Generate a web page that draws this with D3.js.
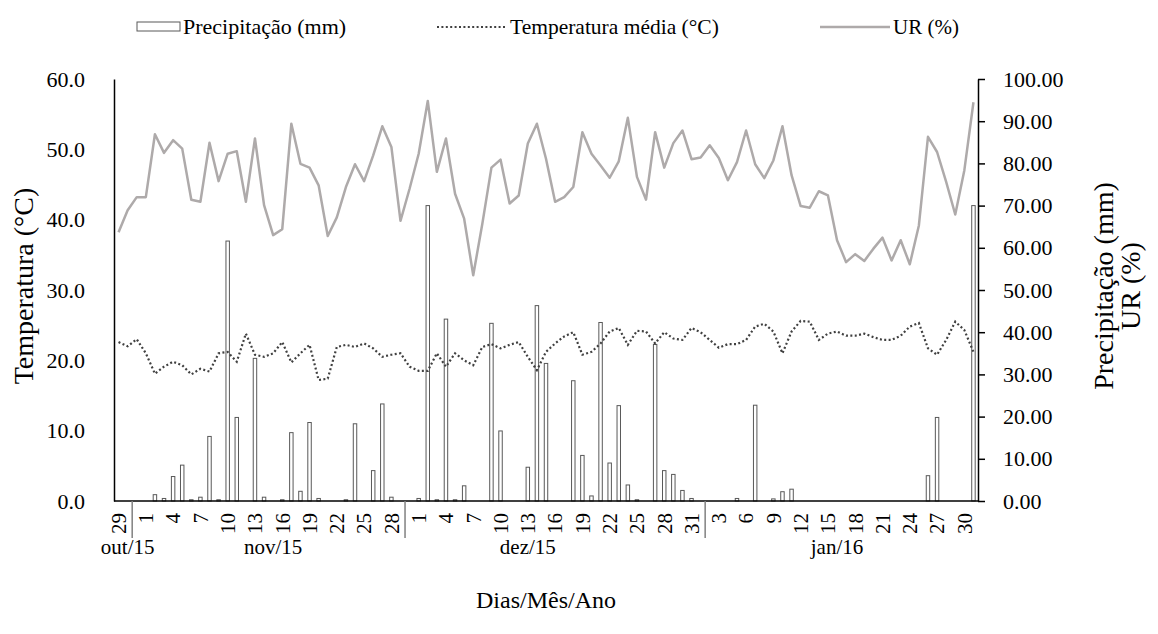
<!DOCTYPE html>
<html>
<head>
<meta charset="utf-8">
<script src="https://cdn.jsdelivr.net/npm/d3@7"></script>
<style>
    body { margin: 0; background: #fff; }
    svg text { font-family: "Liberation Serif", "Times New Roman", serif; fill: #000; }
</style>
</head>
<body>
<div id="vis"></div>
<script>
// daily data, 29 Oct 2015 .. 31 Jan 2016
let startDay = new Date(2015, 9, 29),
    endDay = new Date(2016, 1, 1);

let precip = [
    0, 0, 0,
    0, 1.5, 0.6, 5.8, 8.5, 0.3, 0.9, 15.3, 0.3, 61.6, 19.8, 0, 33.8, 0.9, 0, 0.3, 16.2, 2.3, 18.6, 0.6, 0, 0, 0.3, 18.3, 0, 7.2, 23.0, 0.9, 0, 0,
    0.6, 70.0, 0.3, 43.1, 0.3, 3.6, 0, 0, 42.1, 16.6, 0, 0, 8.0, 46.3, 32.6, 0, 0, 28.5, 10.8, 1.2, 42.3, 9.0, 22.6, 3.8, 0.3, 0, 37.1, 7.2, 6.3, 2.5, 0.6,
    0, 0, 0, 0, 0.6, 0, 22.7, 0, 0.5, 2.2, 2.8, 0, 0, 0, 0, 0, 0, 0, 0, 0, 0, 0, 0, 0, 0, 6.0, 19.8, 0, 0, 0, 70.0
];

let tempMedia = [
    22.6, 22.0, 23.0,
    21.0, 18.1, 19.1, 19.8, 19.3, 18.0, 18.8, 18.4, 21.0, 21.2, 19.8, 23.8, 20.8, 20.5, 21.0, 22.6, 19.7, 21.0, 22.2, 17.2, 17.4, 21.9, 22.2, 21.9, 22.4, 21.7, 20.5, 20.8, 21.0, 19.1,
    18.5, 18.5, 21.0, 19.1, 21.0, 20.0, 19.3, 21.9, 22.3, 21.7, 22.2, 22.6, 20.5, 18.6, 21.2, 22.4, 23.4, 24.0, 20.8, 21.2, 22.4, 24.1, 24.6, 22.2, 24.2, 24.1, 22.4, 24.0, 23.1, 22.9, 24.6,
    24.0, 22.9, 21.8, 22.3, 22.3, 22.9, 24.8, 25.2, 24.1, 21.0, 24.1, 25.6, 25.5, 22.9, 23.8, 24.1, 23.5, 23.5, 23.8, 23.3, 22.9, 22.9, 23.5, 24.8, 25.3, 21.7, 20.8, 22.9, 25.5, 24.3, 21.2
];

let ur = [
    63.7, 68.9, 72.0,
    72.0, 86.9, 82.5, 85.5, 83.5, 71.4, 70.9, 84.9, 75.8, 82.3, 82.9, 70.9, 85.9, 70.1, 63.0, 64.4, 89.4, 79.9, 79.0, 74.8, 62.8, 67.2, 74.4, 79.8, 75.8, 81.9, 88.8, 83.9, 66.4, 74.0,
    82.3, 94.8, 78.0, 85.9, 72.8, 66.9, 53.5, 65.7, 79.0, 80.9, 70.5, 72.4, 84.7, 89.4, 81.1, 70.9, 72.0, 74.4, 87.4, 82.3, 79.5, 76.6, 80.5, 90.8, 76.8, 71.4, 87.4, 79.0, 84.8, 87.8, 81.0,
    81.4, 84.3, 81.3, 76.0, 80.3, 87.8, 79.8, 76.5, 80.7, 88.8, 77.2, 69.9, 69.5, 73.4, 72.4, 61.8, 56.6, 58.5, 56.9, 59.8, 62.4, 57.0, 61.8, 56.1, 65.3, 86.3, 82.7, 75.6, 67.9, 78.4, 94.5
];

let monthLabels = ['out/15', 'nov/15', 'dez/15', 'jan/16'];
let monthLabelDay = [1, 17, 45, 79];   // day index the month name sits under
let tempTicks = [0, 10, 20, 30, 40, 50, 60];
let rightTicks = [0, 10, 20, 30, 40, 50, 60, 70, 80, 90, 100];
let labelStep = 3;

let days = d3.timeDay.range(startDay, endDay);

let width = 1158, height = 634;
let margin = {top: 79, right: 180, bottom: 133, left: 114};

let svg = d3.select('#vis')
    .append('svg')
    .attr('width', width)
    .attr('height', height);

let xScale = d3.scaleBand()
    .domain(d3.range(days.length))
    .range([margin.left, width - margin.right]);

let yTemp = d3.scaleLinear()
    .domain([0, 60])
    .range([height - margin.bottom, margin.top]);

let yRight = d3.scaleLinear()
    .domain([0, 100])
    .range([height - margin.bottom, margin.top]);

let bw = xScale.bandwidth(),
    barW = bw * 0.38,
    base = height - margin.bottom;

// bars
svg.append('g')
    .selectAll('rect')
    .data(precip.map((v, i) => ({i: i, v: v})).filter(d => d.v > 0))
    .enter()
    .append('rect')
    .attr('x', d => xScale(d.i) + bw / 2 - barW / 2)
    .attr('y', d => yRight(d.v))
    .attr('width', barW)
    .attr('height', d => base - yRight(d.v))
    .attr('fill', '#fff')
    .attr('stroke', '#595959')
    .attr('stroke-width', 1);

// UR line
let urLine = d3.line()
    .x((d, i) => xScale(i) + bw / 2)
    .y(d => yRight(d));

svg.append('path')
    .datum(ur)
    .attr('d', urLine)
    .attr('fill', 'none')
    .attr('stroke', '#aeaaaa')
    .attr('stroke-width', 2.5)
    .attr('stroke-linejoin', 'round');

// temperature, dotted
let tempLine = d3.line()
    .x((d, i) => xScale(i) + bw / 2)
    .y(d => yTemp(d));

svg.append('path')
    .datum(tempMedia)
    .attr('d', tempLine)
    .attr('fill', 'none')
    .attr('stroke', '#404040')
    .attr('stroke-width', 2.2)
    .attr('stroke-dasharray', '2,2.4');

// Axes
let leftAxis = d3.axisLeft(yTemp)
    .tickValues(tempTicks)
    .tickSize(0)
    .tickPadding(29)
    .tickFormat(d3.format('.1f'));

let gLeft = svg.append('g')
    .attr('transform', 'translate(' + margin.left + ',0)')
    .call(leftAxis);

let rightAxis = d3.axisRight(yRight)
    .tickValues(rightTicks)
    .tickSize(7)
    .tickSizeOuter(0)
    .tickPadding(18)
    .tickFormat(d3.format('.2f'));

let gRight = svg.append('g')
    .attr('transform', 'translate(' + (width - margin.right) + ',0)')
    .call(rightAxis);

[gLeft, gRight].forEach(g => {
    g.select('.domain').attr('stroke', '#000').attr('stroke-width', 1.5);
    g.selectAll('.tick line').attr('stroke', '#000').attr('stroke-width', 1.5);
    g.selectAll('.tick text')
        .style('font-family', '"Liberation Serif", "Times New Roman", serif')
        .style('font-size', '22px')
        .attr('fill', '#000');
});

// category axis
svg.append('line')
    .attr('x1', margin.left)
    .attr('x2', width - margin.right)
    .attr('y1', base)
    .attr('y2', base)
    .attr('stroke', '#000')
    .attr('stroke-width', 1.5);

let labelIdx = d3.range(0, days.length, labelStep);

svg.append('g')
    .selectAll('text')
    .data(labelIdx)
    .enter()
    .append('text')
    .attr('transform', i => 'translate(' + (xScale(i) + bw / 2) + ',' + (base + 12) + ') rotate(-90)')
    .attr('text-anchor', 'end')
    .attr('dy', '0.35em')
    .style('font-size', '21px')
    .text(i => days[i].getDate());

// month separators: midway between last labelled day of a month and first of the next
let seps = [];
for (let k = 1; k < labelIdx.length; k++) {
    let a = labelIdx[k - 1], b = labelIdx[k];
    if (days[a].getMonth() !== days[b].getMonth()) {
        seps.push((xScale(a) + xScale(b)) / 2 + bw / 2);
    }
}

svg.append('g')
    .selectAll('line')
    .data(seps)
    .enter()
    .append('line')
    .attr('x1', d => d)
    .attr('x2', d => d)
    .attr('y1', base)
    .attr('y2', base + 37)
    .attr('stroke', '#808080')
    .attr('stroke-width', 1.5);

svg.append('g')
    .selectAll('text')
    .data(monthLabels)
    .enter()
    .append('text')
    .attr('x', (d, k) => xScale(monthLabelDay[k]) + bw / 2)
    .attr('y', base + 53)
    .attr('text-anchor', 'middle')
    .style('font-size', '21px')
    .text(d => d);

// titles
svg.append('text')
    .attr('x', (margin.left + width - margin.right) / 2)
    .attr('y', 608)
    .attr('text-anchor', 'middle')
    .style('font-size', '24px')
    .text('Dias/Mês/Ano');

svg.append('text')
    .attr('transform', 'translate(33,' + ((margin.top + base) / 2 - 4) + ') rotate(-90)')
    .attr('text-anchor', 'middle')
    .style('font-size', '28px')
    .text('Temperatura (°C)');

let rTitle = svg.append('text')
    .attr('transform', 'translate(1113,' + ((margin.top + base) / 2 - 4) + ') rotate(-90)')
    .attr('text-anchor', 'middle')
    .style('font-size', '28px');
rTitle.append('tspan').attr('x', 0).attr('dy', 0).text('Precipitação (mm)');
rTitle.append('tspan').attr('x', 0).attr('dy', '0.95em').text('UR (%)');

// legend
let legend = svg.append('g');

legend.append('rect')
    .attr('x', 137).attr('y', 22).attr('width', 43).attr('height', 9)
    .attr('fill', '#fff').attr('stroke', '#595959').attr('stroke-width', 1);
legend.append('text').attr('x', 183).attr('y', 34).style('font-size', '22px').text('Precipitação (mm)');

legend.append('line')
    .attr('x1', 437).attr('x2', 505).attr('y1', 27).attr('y2', 27)
    .attr('stroke', '#404040').attr('stroke-width', 2.2).attr('stroke-dasharray', '2,2.4');
legend.append('text').attr('x', 510).attr('y', 34).style('font-size', '21.5px').text('Temperatura média (°C)');

legend.append('line')
    .attr('x1', 820).attr('x2', 890).attr('y1', 27).attr('y2', 27)
    .attr('stroke', '#aeaaaa').attr('stroke-width', 2.5);
legend.append('text').attr('x', 893).attr('y', 34).style('font-size', '21px').text('UR (%)');
</script>
</body>
</html>
